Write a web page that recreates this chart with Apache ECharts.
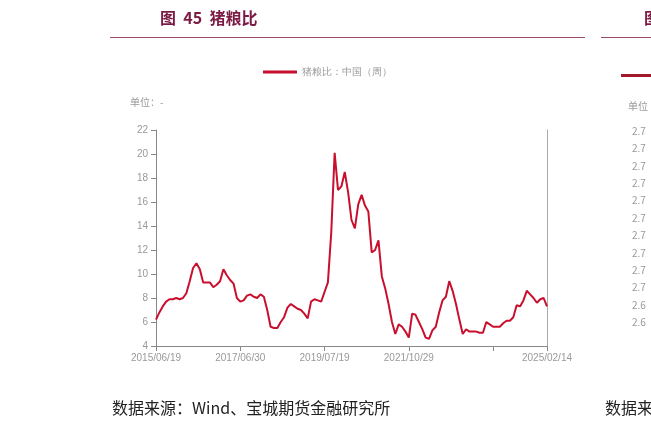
<!DOCTYPE html>
<html>
<head>
<meta charset="utf-8" />
<title>猪粮比</title>
<script src="https://cdn.jsdelivr.net/npm/echarts@6/dist/echarts.min.js"></script>
<style>
  html, body { margin: 0; padding: 0; background: #fff; }
  #main { width: 651px; height: 432px; }
</style>
</head>
<body>
<div id="main"></div>
<script type="text/javascript">
// 周度猪粮比
var dates = [];
var tickIdx = [0, 25, 50, 75, 100, 116];
var tickLabels = ['2015/06/19', '2017/06/30', '2019/07/19', '2021/10/29', '', '2025/02/14'];
var values = [
    6.2, 6.8, 7.3, 7.7, 7.9, 7.9, 8.0, 7.9, 8.0, 8.4,
    9.4, 10.5, 10.9, 10.4, 9.3, 9.3, 9.3, 8.9, 9.1, 9.4,
    10.4, 9.9, 9.5, 9.2, 8.0, 7.7, 7.8, 8.2, 8.3, 8.1,
    8.0, 8.3, 8.1, 7.0, 5.6, 5.5, 5.5, 6.0, 6.4, 7.2,
    7.5, 7.3, 7.1, 7.0, 6.7, 6.3, 7.7, 7.9, 7.8, 7.7,
    8.5, 9.3, 13.5, 20.1, 17.0, 17.3, 18.5, 16.8, 14.5, 13.8,
    15.8, 16.6, 15.7, 15.2, 11.8, 12.0, 12.8, 9.8, 8.8, 7.5,
    6.0, 5.0, 5.8, 5.6, 5.2, 4.7, 6.7, 6.6, 6.0, 5.4,
    4.7, 4.6, 5.3, 5.6, 6.8, 7.8, 8.1, 9.4, 8.6, 7.5,
    6.2, 5.0, 5.4, 5.2, 5.2, 5.2, 5.1, 5.1, 6.0, 5.8,
    5.6, 5.6, 5.6, 5.9, 6.1, 6.1, 6.4, 7.4, 7.3, 7.8,
    8.6, 8.3, 8.0, 7.6, 7.9, 8.0, 7.3
];
for (var i = 0; i < values.length; i++) {
    var k = tickIdx.indexOf(i);
    dates.push(k >= 0 ? tickLabels[k] : '');
}

var myChart = echarts.init(document.getElementById('main'));
var gray = '#888';
var option = {
    animation: false,
    backgroundColor: '#fff',
    grid: { left: 156, right: 104, top: 130, bottom: 86 },
    legend: {
        top: 62, left: 258,
        itemWidth: 34, itemHeight: 3,
        icon: 'rect',
        textStyle: { color: '#999', fontSize: 10 },
        data: ['猪粮比：中国（周）']
    },
    xAxis: {
        type: 'category',
        data: dates,
        boundaryGap: false,
        axisLine: { lineStyle: { color: gray } },
        axisTick: { interval: function (idx) { return tickIdx.indexOf(idx) >= 0; }, lineStyle: { color: gray } },
        axisLabel: {
            interval: function (idx) { return tickIdx.indexOf(idx) >= 0; },
            color: '#999', fontSize: 10, margin: 7
        },
        splitLine: { show: false }
    },
    yAxis: [{
        type: 'value',
        min: 4, max: 22, interval: 2,
        axisLine: { show: true, lineStyle: { color: gray } },
        axisTick: { show: true, lineStyle: { color: gray } },
        axisLabel: { color: '#999', fontSize: 10 },
        splitLine: { show: false }
    }, {
        type: 'value',
        position: 'right',
        min: 4, max: 22, interval: 2,
        axisLine: { show: true, lineStyle: { color: '#aaa' } },
        axisTick: { show: false },
        axisLabel: { show: false },
        splitLine: { show: false }
    }],
    series: [{
        name: '猪粮比：中国（周）',
        type: 'line',
        data: values,
        showSymbol: false,
        lineStyle: { color: '#c8102e', width: 2 },
        itemStyle: { color: '#c8102e' }
    }],
    graphic: [
        { type: 'text', left: 160, top: 10, style: { text: '图  45  猪粮比', fill: '#7b1a44', font: 'bold 16px "Noto Sans CJK SC"' } },
        { type: 'rect', shape: { x: 110, y: 37, width: 475, height: 1 }, style: { fill: '#9c4a6a' } },
        { type: 'rect', shape: { x: 601, y: 37, width: 50, height: 1 }, style: { fill: '#9c4a6a' } },
        { type: 'text', left: 644, top: 10, style: { text: '图', fill: '#7b1a44', font: 'bold 16px "Noto Sans CJK SC"' } },
        { type: 'rect', shape: { x: 621, y: 74, width: 30, height: 3 }, style: { fill: '#a0182a' } },
        { type: 'text', left: 130, top: 97, style: { text: '单位：-', fill: '#999', font: '10px "Noto Sans CJK SC"' } },
        { type: 'text', left: 628, top: 101, style: { text: '单位', fill: '#999', font: '10px "Noto Sans CJK SC"' } },
        { type: 'text', left: 632, top: 126, style: { text: '2.7\n\n2.7\n\n2.7\n\n2.7\n\n2.7\n\n2.7\n\n2.7\n\n2.7\n\n2.7\n\n2.7\n\n2.6\n\n2.6', fill: '#999', font: '10px "Noto Sans CJK SC"', lineHeight: 8.7 } },
        { type: 'text', left: 112, top: 400, style: { text: '数据来源：Wind、宝城期货金融研究所', fill: '#222', font: '16px "Noto Sans CJK SC"' } },
        { type: 'text', left: 605, top: 400, style: { text: '数据来', fill: '#222', font: '16px "Noto Sans CJK SC"' } }
    ]
};
myChart.setOption(option);
</script>
</body>
</html>
